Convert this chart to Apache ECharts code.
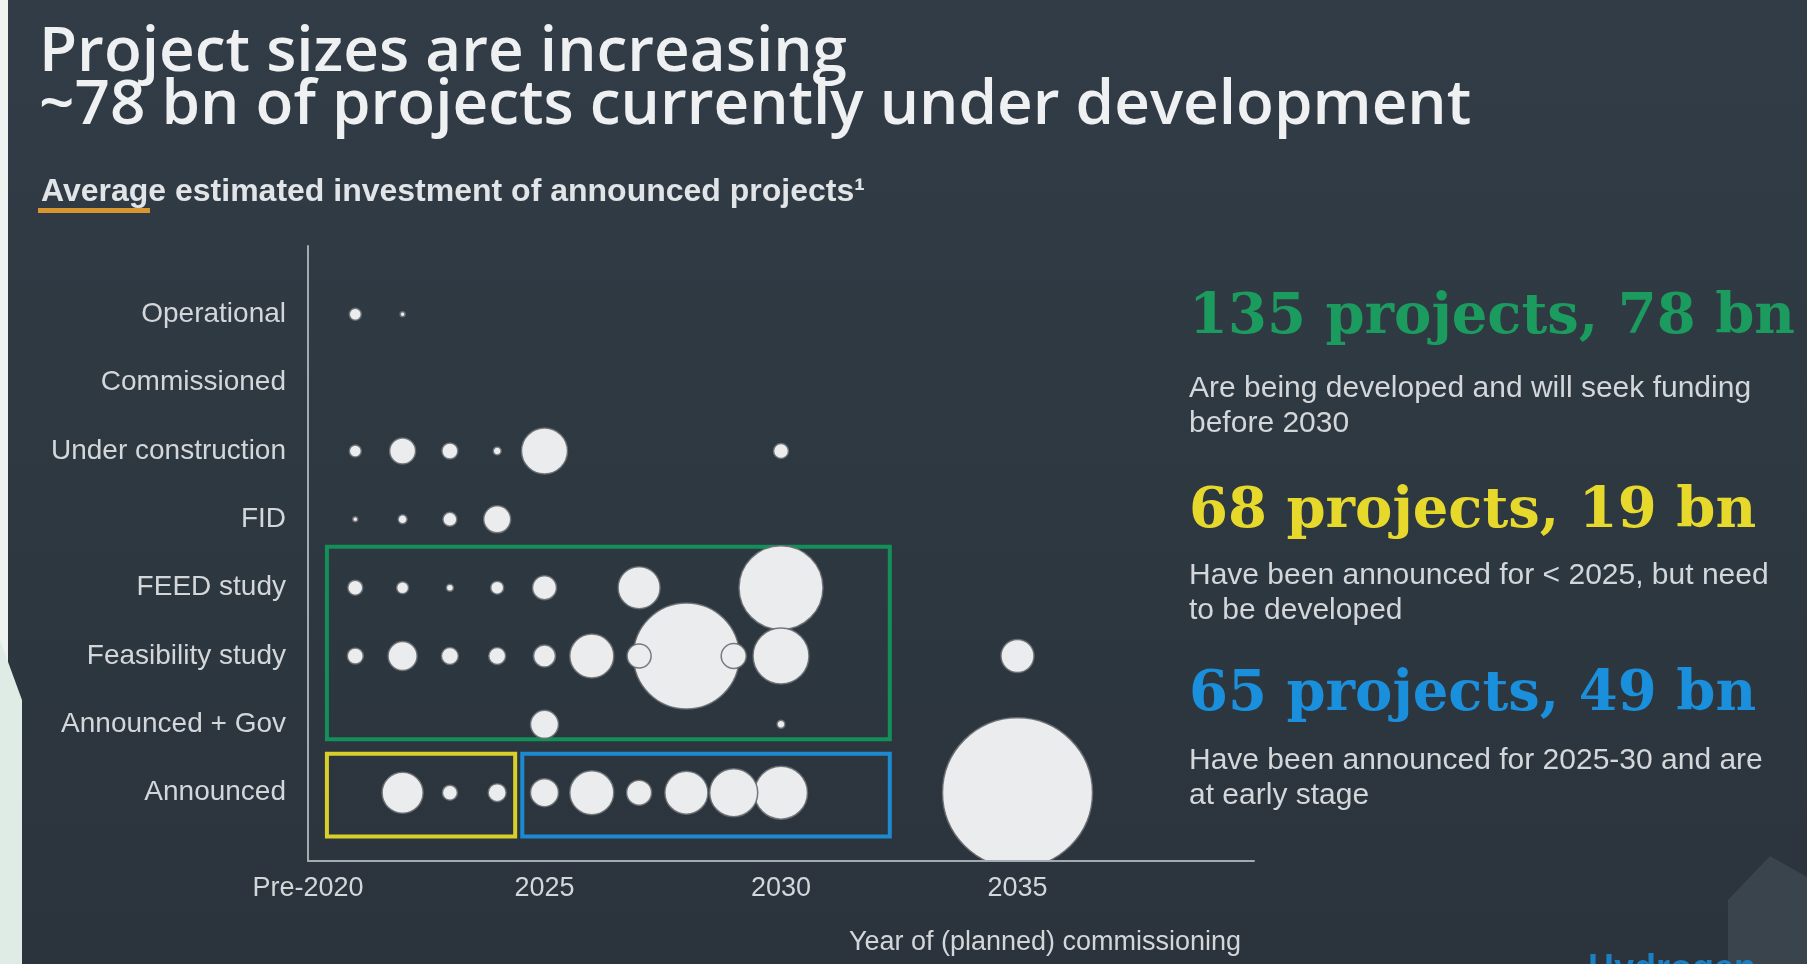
<!DOCTYPE html>
<html lang="en">

<head>
    <meta charset="UTF-8">
    <title>Project sizes are increasing</title>
    <script src="https://cdn.jsdelivr.net/npm/echarts@6/dist/echarts.min.js"></script>
    <style>
        body { margin: 0; background: #2f3a44; }
        #main { width: 1807px; height: 964px; }
    </style>
</head>

<body>
    <div id="main"></div>

    <script>
        // stages from bottom (0) to top (7)
        var stages = ['Announced', 'Announced + Gov', 'Feasibility study', 'FEED study', 'FID',
            'Under construction', 'Commissioned', 'Operational']

        var tickYears = [2020, 2025, 2030, 2035]
        var tickLabels = ['Pre-2020', '2025', '2030', '2035']
        var xAxisName = 'Year of (planned) commissioning'

        // [year, average investment (m)] per stage
        var announced = [[2022, 747], [2023, 100], [2024, 144], [2025, 348], [2026, 860], [2027, 278],
            [2028, 822], [2029, 1024], [2030, 1248], [2035, 10000]]
        var announcedGov = [[2025, 348], [2030, 28]]
        var feasibility = [[2021, 114], [2022, 374], [2023, 128], [2024, 128], [2025, 215], [2026, 860],
            [2027, 256], [2028, 4990], [2029, 278], [2030, 1390], [2035, 484]]
        var feedStudy = [[2021, 100], [2022, 64], [2023, 22], [2024, 75], [2025, 256], [2027, 784], [2030, 3136]]
        var fid = [[2021, 11], [2022, 36], [2023, 87], [2024, 324]]
        var underConstruction = [[2021, 64], [2022, 300], [2023, 114], [2024, 28], [2025, 940], [2030, 100]]
        var commissioned = []
        var operational = [[2021, 64], [2022, 11]]

        var rows = [announced, announcedGov, feasibility, feedStudy, fid, underConstruction, commissioned, operational]

        // highlighted groups: [year from, year to], [stage from, stage to]
        var groupBoxes = [
            { name: 'developing', x: [2020.4, 2032.3], y: [0.78, 3.6], color: '#13905a' },
            { name: 'pre2025', x: [2020.4, 2024.38], y: [-0.64, 0.57], color: '#d8cf2a' },
            { name: '2025to30', x: [2024.53, 2032.3], y: [-0.64, 0.57], color: '#1d8ad0' }
        ]

        var summaryHeads = ['135 projects, 78 bn', '68 projects, 19 bn', '65 projects, 49 bn']
        var summaryNotes = [
            'Are being developed and will seek funding\nbefore 2030',
            'Have been announced for < 2025, but need\nto be developed',
            'Have been announced for 2025-30 and are\nat early stage'
        ]

        var bubbles = []
        rows.forEach(function (row, i) {
            row.forEach(function (p) {
                bubbles.push([p[0], i, p[1]])
            })
        })
        // big ones first so the small ones stay visible on top
        bubbles.sort(function (a, b) { return b[2] - a[2] })

        var headColors = ['#1b9b5e', '#e6d92c', '#1a8fdc']
        var headY = [318, 512, 695]
        var noteY = [371, 558, 743]

        var graphics = [
            { type: 'rect', left: 0, top: 0, shape: { width: 8, height: 964 }, style: { fill: '#eef2f0' } },
            { type: 'polygon', shape: { points: [[0, 640], [22, 700], [22, 964], [0, 964]] }, style: { fill: '#dfece5' } },
            { type: 'rect', shape: { x: 38, y: 208, width: 112, height: 5 }, style: { fill: '#d9962e' } },
            // hides the part of the 2035 bubble that falls below the axis
            { type: 'rect', z: 10, shape: { x: 309, y: 862, width: 945, height: 9 }, style: { fill: '#2c353e' } },
            { type: 'polygon', shape: { points: [[1770, 856], [1807, 877], [1807, 964], [1728, 964], [1728, 900]] }, style: { fill: '#39444d' } },
            { type: 'text', x: 1588, y: 952, style: { text: 'Hydrogen', fill: '#1b7fc4', font: 'bold 36px "Liberation Sans", Arial, sans-serif' } },
            // axis title sits under the right part of the x axis
            {
                type: 'text', x: 1045, y: 943,
                style: { text: xAxisName, fill: '#d3d7da', font: '27px "Liberation Sans", Arial, sans-serif', align: 'center', verticalAlign: 'middle' }
            }
        ]
        summaryHeads.forEach(function (t, i) {
            graphics.push({
                type: 'text', x: 1189, y: headY[i],
                style: { text: t, fill: headColors[i], font: 'bold 56px "DejaVu Serif", serif', verticalAlign: 'middle' }
            })
            graphics.push({
                type: 'text', x: 1189, y: noteY[i],
                style: { text: summaryNotes[i], fill: '#d3d7da', font: '30px "Liberation Sans", Arial, sans-serif', lineHeight: 35, verticalAlign: 'top' }
            })
        })

        var mCharts = echarts.init(document.getElementById('main'))
        var option = {
            backgroundColor: {
                type: 'linear', x: 0, y: 0, x2: 0, y2: 1,
                colorStops: [{ offset: 0, color: '#313c46' }, { offset: 1, color: '#2b343c' }]
            },
            title: [
                {
                    text: 'Project sizes are increasing\n~78 bn of projects currently under development',
                    left: 34, top: 22,
                    textStyle: { color: '#eef0f1', fontFamily: 'Open Sans', fontWeight: 600, fontSize: 62, lineHeight: 53 }
                },
                {
                    text: 'Average estimated investment of announced projects¹',
                    left: 36, top: 171,
                    textStyle: { color: '#e2e5e7', fontFamily: 'Liberation Sans', fontWeight: 'bold', fontSize: 32, lineHeight: 32 }
                }
            ],
            grid: { left: 308, right: 553, top: 246, bottom: 103 },
            xAxis: {
                type: 'value', min: 2020, max: 2040, interval: 5,
                axisLine: { onZero: false, lineStyle: { color: '#a3abb1', width: 2 } },
                axisTick: { show: false },
                splitLine: { show: false },
                axisLabel: {
                    color: '#d3d7da', fontSize: 27, fontFamily: 'Liberation Sans', margin: 14,
                    formatter: function (v) {
                        var k = tickYears.indexOf(v)
                        return k < 0 ? '' : tickLabels[k]
                    }
                },
                z: 12
            },
            yAxis: {
                type: 'value', min: -1, max: 8, interval: 1,
                axisLine: { show: true, onZero: false, lineStyle: { color: '#a3abb1', width: 2 } },
                axisTick: { show: false },
                splitLine: { show: false },
                axisLabel: {
                    color: '#d3d7da', fontSize: 28, fontFamily: 'Liberation Sans', margin: 22,
                    formatter: function (v) { return stages[v] || '' }
                }
            },
            graphic: graphics,
            series: [
                {
                    type: 'scatter',
                    data: bubbles,
                    symbolSize: function (val) { return Math.sqrt(val[2]) * 1.5 },
                    itemStyle: { color: '#ebeced', opacity: 1, borderColor: 'rgba(105,110,114,0.9)', borderWidth: 1.5 },
                    markArea: {
                        silent: true,
                        data: groupBoxes.map(function (b) {
                            return [
                                { xAxis: b.x[0], yAxis: b.y[1], itemStyle: { color: 'transparent', borderColor: b.color, borderWidth: 4 } },
                                { xAxis: b.x[1], yAxis: b.y[0] }
                            ]
                        })
                    }
                }
            ]
        }
        mCharts.setOption(option)
    </script>
</body>

</html>
